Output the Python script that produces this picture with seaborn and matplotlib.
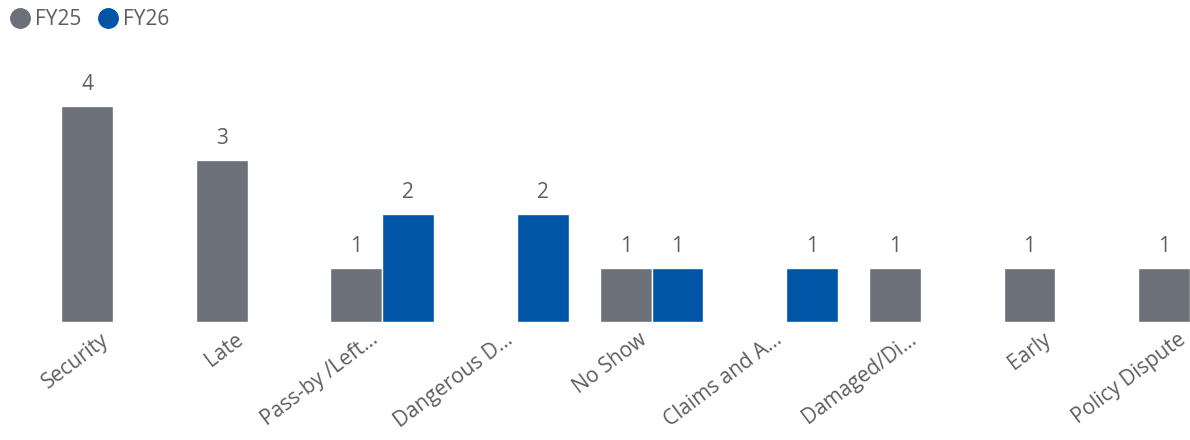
import matplotlib
matplotlib.use("Agg")
import matplotlib.pyplot as plt
import matplotlib.transforms as mtransforms
from matplotlib.lines import Line2D
import seaborn as sns
import pandas as pd

categories = ["Security", "Late", "Pass-by /Left...", "Dangerous D...", "No Show",
              "Claims and A...", "Damaged/Di...", "Early", "Policy Dispute"]
fy25 = [4, 3, 1, 0, 1, 0, 1, 1, 1]
fy26 = [0, 0, 2, 2, 1, 1, 0, 0, 0]
series = ["FY25", "FY26"]
colors = {"FY25": "#6B7079", "FY26": "#0055A6"}
text_color = "#605E5C"

df = pd.DataFrame({
    "category": categories * 2,
    "series": ["FY25"] * len(categories) + ["FY26"] * len(categories),
    "count": fy25 + fy26,
})

sns.set_style("white")
plt.rcParams["font.family"] = ["Open Sans", "DejaVu Sans"]

fig = plt.figure(figsize=(11.9, 4.4), dpi=100)
ax = fig.add_axes([0, 0.268, 1, 0.614])

sns.barplot(data=df, x="category", y="count", hue="series", order=categories,
            hue_order=series, palette=colors, width=0.77, saturation=1,
            legend=False, ax=ax)

for cont in ax.containers:
    labels = [f"{v:g}" if v > 0 else "" for v in cont.datavalues]
    ax.bar_label(cont, labels=labels, padding=8, fontsize=15, color=text_color)

ax.set_xlim(-0.84, 8.0)
ax.set_ylim(0, 5)
ax.set_xlabel("")
ax.set_ylabel("")
ax.set_yticks([])
ax.tick_params(axis="x", length=0, pad=5)
shift = mtransforms.ScaledTranslation(-13 / 100, 0, fig.dpi_scale_trans)
for lab in ax.get_xticklabels():
    lab.set_rotation(37)
    lab.set_ha("right")
    lab.set_va("top")
    lab.set_rotation_mode("anchor")
    lab.set_fontsize(15)
    lab.set_color(text_color)
    lab.set_transform(lab.get_transform() + shift)
sns.despine(ax=ax, left=True, bottom=True)

handles = [Line2D([], [], marker="o", linestyle="", markersize=14,
                  color=colors[s], label=s) for s in series]
fig.legend(handles=handles, loc="upper left", bbox_to_anchor=(-0.013, 1.012),
           ncol=2, frameon=False, fontsize=15, handletextpad=-0.3,
           columnspacing=0.3, labelcolor=text_color, borderaxespad=0.3)

fig.savefig("out.png", dpi=100)
